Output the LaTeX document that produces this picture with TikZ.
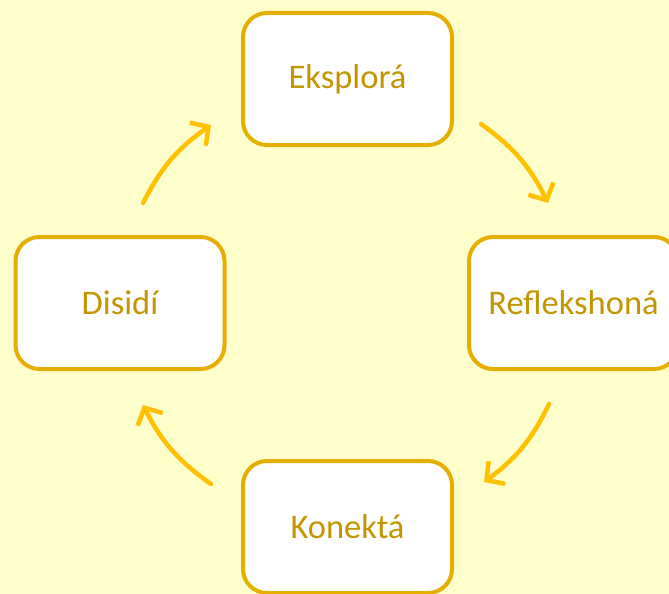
\documentclass[tikz,border=0pt]{standalone}
\usepackage{fontspec}
\setmainfont{Carlito}
\usetikzlibrary{arrows.meta}
\definecolor{bg}{HTML}{FFFFCC}
\definecolor{boxline}{HTML}{E6AF00}
\definecolor{txt}{HTML}{C39500}
\definecolor{arr}{HTML}{FFC000}
\tikzset{
  stage/.style={draw=boxline, line width=4pt, fill=white, rounded corners=24pt,
    minimum width=209pt, minimum height=132pt, inner sep=0pt,
    text=txt, font=\fontsize{34.5}{41}\selectfont},
  cyc/.style={draw=arr, line width=4.5pt, line cap=round,
    -{Straight Barb[length=13pt,width=28pt,line width=4.5pt]}, bend left=14}
}
\begin{document}
\begin{tikzpicture}[x=1pt,y=-1pt]
\useasboundingbox (0,0) rectangle (669,594);
\clip (0,0) rectangle (669,594);
\fill[bg] (0,0) rectangle (669,594);
\node[stage] (top) at (347.5,79) {Eksplorá};
\node[stage] (right) at (573.5,303) {Reflekshoná};
\node[stage] (bottom) at (347.5,527) {Konektá};
\node[stage] (left) at (120,303) {Disidí};
\coordinate (a1s) at (481,124);
\coordinate (a1e) at (548,203);
\coordinate (a2s) at (549,404);
\coordinate (a2e) at (484,482);
\coordinate (a3s) at (211,484);
\coordinate (a3e) at (143,405);
\coordinate (a4s) at (143,203);
\coordinate (a4e) at (211,125);
\draw[cyc] (a1s) to (a1e);
\draw[cyc] (a2s) to (a2e);
\draw[cyc] (a3s) to (a3e);
\draw[cyc] (a4s) to (a4e);
\end{tikzpicture}
\end{document}
